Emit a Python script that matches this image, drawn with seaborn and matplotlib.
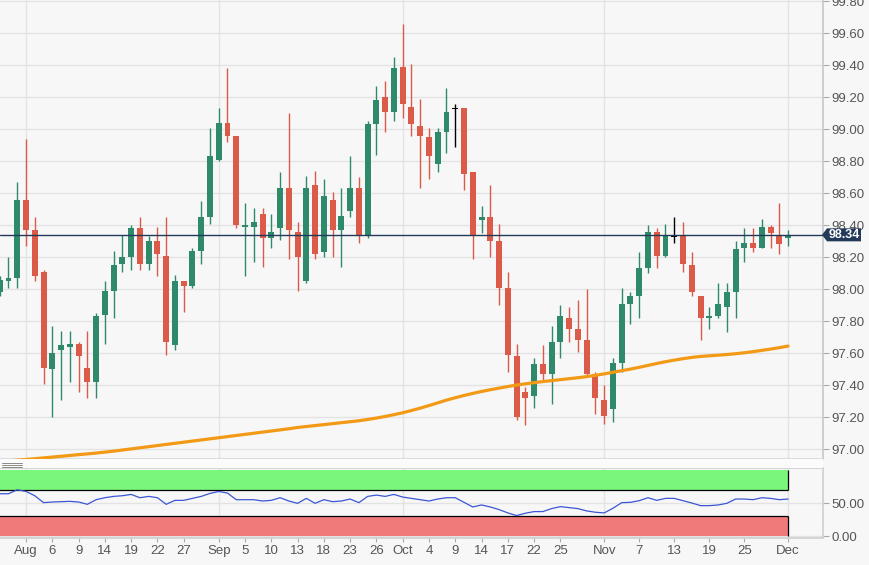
import numpy as np
import pandas as pd
import matplotlib
matplotlib.use('Agg')
import matplotlib.pyplot as plt
from matplotlib.patches import Polygon, Rectangle
from matplotlib.lines import Line2D
import seaborn as sns

# trading days shown on the chart (Jul 29 .. Dec 2, 2019)
dates = pd.bdate_range('2019-07-29', '2019-12-02')

opens = [97.98, 98.05, 98.07, 98.56, 98.37, 98.11, 97.50, 97.62, 97.64, 97.66,
         97.51, 97.42, 97.84, 97.99, 98.16, 98.20, 98.38, 98.16, 98.30, 98.21,
         97.65, 98.05, 98.02, 98.24, 98.45, 98.81, 99.04, 98.96, 98.39, 98.39,
         98.47, 98.32, 98.38, 98.63, 98.36, 98.05, 98.65, 98.23, 98.56, 98.37,
         98.49, 98.63, 98.33, 99.03, 99.20, 99.11, 99.39, 99.14, 99.02, 98.95,
         98.78, 98.98, 99.13, 99.13, 98.73, 98.43, 98.45, 98.30, 98.01, 97.58,
         97.36, 97.33, 97.53, 97.47, 97.67, 97.82, 97.75, 97.68, 97.47, 97.31,
         97.25, 97.54, 97.91, 97.96, 98.13, 98.36, 98.21, 98.33, 98.34, 98.15,
         97.96, 97.82, 97.83, 97.89, 97.98, 98.26, 98.29, 98.26, 98.39, 98.33,
         98.32]
highs = [98.08, 98.20, 98.67, 98.94, 98.45, 98.12, 97.77, 97.74, 97.74, 97.67,
         97.74, 97.85, 98.05, 98.24, 98.34, 98.40, 98.45, 98.33, 98.39, 98.45,
         98.09, 98.05, 98.26, 98.55, 99.01, 99.13, 99.38, 98.96, 98.54, 98.51,
         98.51, 98.47, 98.73, 99.10, 98.42, 98.71, 98.74, 98.69, 98.61, 98.63,
         98.83, 98.70, 99.05, 99.27, 99.30, 99.45, 99.66, 99.41, 99.19, 99.01,
         99.01, 99.26, 99.16, 99.13, 98.73, 98.52, 98.65, 98.41, 98.11, 97.66,
         97.39, 97.57, 97.65, 97.77, 97.90, 97.89, 97.93, 98.00, 97.48, 97.40,
         97.57, 98.01, 97.98, 98.23, 98.40, 98.38, 98.41, 98.45, 98.42, 98.23,
         97.96, 97.89, 98.04, 98.04, 98.30, 98.38, 98.38, 98.44, 98.40, 98.54,
         98.37]
lows = [97.96, 98.01, 98.01, 98.27, 98.05, 97.41, 97.20, 97.31, 97.42, 97.36,
        97.32, 97.32, 97.66, 97.82, 98.11, 98.12, 98.12, 98.12, 98.08, 97.59,
        97.62, 97.86, 98.01, 98.16, 98.41, 98.80, 98.92, 98.38, 98.08, 98.17,
        98.14, 98.26, 98.31, 98.19, 97.99, 98.04, 98.19, 98.20, 98.20, 98.14,
        98.45, 98.29, 98.32, 98.84, 98.98, 99.05, 99.07, 98.96, 98.63, 98.69,
        98.73, 98.85, 98.89, 98.62, 98.19, 98.35, 98.20, 97.90, 97.48, 97.18,
        97.15, 97.26, 97.42, 97.28, 97.57, 97.67, 97.61, 97.45, 97.22, 97.16,
        97.17, 97.48, 97.78, 97.82, 98.10, 98.13, 98.20, 98.29, 98.11, 97.96,
        97.68, 97.75, 97.82, 97.73, 97.82, 98.17, 98.23, 98.26, 98.26, 98.22,
        98.27]
closes = [98.06, 98.07, 98.56, 98.37, 98.08, 97.51, 97.60, 97.65, 97.66, 97.58,
          97.42, 97.83, 97.99, 98.15, 98.20, 98.38, 98.16, 98.30, 98.22, 97.67,
          98.05, 98.02, 98.24, 98.45, 98.83, 99.04, 98.96, 98.40, 98.40, 98.42,
          98.32, 98.36, 98.63, 98.37, 98.20, 98.63, 98.22, 98.58, 98.37, 98.46,
          98.63, 98.33, 99.03, 99.18, 99.11, 99.38, 99.16, 99.03, 98.96, 98.83,
          98.98, 99.11, 99.13, 98.72, 98.33, 98.45, 98.30, 98.01, 97.59, 97.20,
          97.32, 97.53, 97.47, 97.67, 97.83, 97.75, 97.68, 97.47, 97.32, 97.21,
          97.54, 97.91, 97.96, 98.13, 98.36, 98.21, 98.34, 98.33, 98.16, 97.98,
          97.82, 97.83, 97.91, 97.98, 98.25, 98.29, 98.26, 98.39, 98.35, 98.28,
          98.34]

# 200-day moving average (orange line)
ma200 = [96.922, 96.927, 96.932, 96.936, 96.941, 96.946, 96.951, 96.956, 96.961, 96.966,
         96.971, 96.976, 96.982, 96.988, 96.995, 97.002, 97.009, 97.016, 97.023, 97.030,
         97.037, 97.044, 97.051, 97.058, 97.065, 97.072, 97.079, 97.086, 97.093, 97.100,
         97.107, 97.114, 97.121, 97.128, 97.136, 97.142, 97.148, 97.154, 97.160, 97.166,
         97.172, 97.178, 97.186, 97.195, 97.205, 97.216, 97.228, 97.242, 97.257, 97.273,
         97.290, 97.307, 97.322, 97.336, 97.349, 97.361, 97.372, 97.382, 97.392, 97.401,
         97.409, 97.416, 97.423, 97.429, 97.435, 97.441, 97.447, 97.454, 97.462, 97.471,
         97.481, 97.491, 97.501, 97.512, 97.524, 97.536, 97.547, 97.557, 97.566, 97.574,
         97.580, 97.584, 97.588, 97.592, 97.597, 97.603, 97.610, 97.618, 97.626, 97.635,
         97.645]

# RSI (lower panel)
rsi = [64, 64, 70, 67.5, 61, 50.5, 51.5, 52, 52.5, 51.5,
       48, 55, 58, 60, 61, 63, 58, 60, 58, 48,
       54, 54, 57, 60, 64.5, 67.5, 65, 55, 55, 55,
       53, 54, 58, 53, 49.5, 57, 49.5, 55, 52, 53,
       56, 50.5, 60, 62, 60, 63, 59, 57, 55, 53,
       56, 58, 58, 51, 44, 47, 44, 40, 35, 31,
       34.5, 37, 37, 41.5, 44.5, 43, 41.5, 38, 36, 35,
       42, 50.5, 51, 53.5, 58, 54, 57, 57, 53.5, 50,
       46, 46, 47, 49.5, 56, 56, 55, 58, 57, 55,
       56]

last_price = 98.34
tick_labels = ['Aug', '6', '9', '14', '19', '22', '27', 'Sep', '5', '10', '13', '18', '23',
               '26', 'Oct', '4', '9', '14', '17', '22', '25', 'Nov', '7', '13', '19', '25', 'Dec']
tick_days = ['2019-08-01', '2019-08-06', '2019-08-09', '2019-08-14', '2019-08-19', '2019-08-22',
             '2019-08-27', '2019-09-02', '2019-09-05', '2019-09-10', '2019-09-13', '2019-09-18',
             '2019-09-23', '2019-09-26', '2019-10-01', '2019-10-04', '2019-10-09', '2019-10-14',
             '2019-10-17', '2019-10-22', '2019-10-25', '2019-11-01', '2019-11-07', '2019-11-13',
             '2019-11-19', '2019-11-25', '2019-12-02']
month_days = ['2019-08-01', '2019-09-02', '2019-10-01', '2019-11-01', '2019-12-02']

BG = '#f7f7f7'
GRID = '#e3e3e3'
GREEN = '#2e8a6b'
RED = '#dc5a48'
ORANGE = '#f29a16'
NAVY = '#22395a'
BLUE = '#3a56d4'

sns.set_theme(style='white', rc={'axes.facecolor': BG, 'figure.facecolor': BG})
plt.rcParams['font.family'] = ['Liberation Sans', 'DejaVu Sans']

# x position = trading day number, Aug 1 = 0
first = list(dates).index(pd.Timestamp('2019-08-01'))
x = np.arange(len(dates)) - first
pos = {d: i - first for i, d in enumerate(dates)}
tick_pos = [pos[pd.Timestamp(d)] for d in tick_days]
month_pos = [pos[pd.Timestamp(d)] for d in month_days]

W, H = 869, 565
fig = plt.figure(figsize=(W / 100, H / 100), dpi=100)
ax = fig.add_axes([0, 1 - 459 / H, 823 / W, 459 / H])
ax2 = fig.add_axes([0, 27 / H, 823 / W, 70 / H])

xlim = (-2.97, 90.98)

# ---- candles
o, h, l, c = map(np.array, (opens, highs, lows, closes))
cols = np.where(c > o, GREEN, np.where(c < o, RED, 'black'))
body = np.maximum(np.abs(c - o), 0.008)
bottom = np.minimum(o, c) - (body - np.abs(c - o)) / 2
ax.vlines(x, l, h, colors=cols, lw=1.0, zorder=3)
ax.bar(x, body, bottom=bottom, width=0.68, color=cols, linewidth=0, zorder=4)

sns.lineplot(x=x, y=ma200, ax=ax, color=ORANGE, lw=2.3, zorder=5, legend=False)
ax.axhline(last_price, color=NAVY, lw=1.0, zorder=6)

for m in month_pos:
    ax.axvline(m, color=GRID, lw=1, zorder=0)
ax.set_xlim(*xlim)
ax.set_ylim(96.939, 99.808)
yt = np.round(np.arange(97.0, 99.81, 0.2), 2)
ax.set_yticks(yt)
ax.set_yticklabels([f'{v:.2f}' for v in yt])
ax.yaxis.grid(True, color=GRID, lw=1)
ax.set_axisbelow(True)
ax.tick_params(axis='y', left=False, labelleft=False, right=True, labelright=True,
               length=4, width=0.8, color='#aaaaaa', labelsize=9.5, labelcolor='#555555', pad=2)
ax.tick_params(axis='x', bottom=False, labelbottom=False)
ax.set_xlabel('')
ax.set_ylabel('')
for s in ['left', 'top']:
    ax.spines[s].set_visible(False)
ax.spines['right'].set_color('#c8c8c8')
ax.spines['bottom'].set_color('#d8d8d8')

# price tag on the right axis
span = 99.808 - 96.939
hh = 6.5 * span / 459
ytr = ax.get_yaxis_transform()
tag = Polygon([(822 / 823, last_price), (827 / 823, last_price + hh), (861 / 823, last_price + hh),
               (861 / 823, last_price - hh), (827 / 823, last_price - hh)],
              closed=True, transform=ytr, clip_on=False, fc=NAVY, ec='none', zorder=20)
ax.add_patch(tag)
ax.text(844 / 823, last_price, f'{last_price:.2f}', transform=ytr, ha='center', va='center',
        color='white', fontsize=9, fontweight='bold', zorder=21, clip_on=False)

# ---- RSI panel
for m in month_pos:
    ax2.axvline(m, color=GRID, lw=1, zorder=0)
ax2.fill_between([xlim[0] - 1, x[-1]], 70, 100, color='#7af77a', lw=0, zorder=1)
ax2.fill_between([xlim[0] - 1, x[-1]], 0, 30, color='#f07a7a', lw=0, zorder=1)
ax2.hlines([70, 30], xlim[0] - 1, x[-1], color='black', lw=0.9, zorder=2)
ax2.vlines([x[-1], x[-1]], [70, 0], [100, 30], color='black', lw=0.9, zorder=2)
sns.lineplot(x=x, y=rsi, ax=ax2, color=BLUE, lw=0.9, zorder=3, legend=False)
ax2.set_xlim(*xlim)
ax2.set_ylim(-3, 103)
ax2.set_yticks([0, 50])
ax2.set_yticklabels(['0.00', '50.00'])
ax2.yaxis.grid(True, color=GRID, lw=1)
ax2.set_axisbelow(True)
ax2.set_xticks(tick_pos)
ax2.set_xticklabels(tick_labels)
ax2.tick_params(axis='y', left=False, labelleft=False, right=True, labelright=True,
                length=4, width=0.8, color='#aaaaaa', labelsize=9.5, labelcolor='#555555', pad=2)
ax2.tick_params(axis='x', bottom=True, length=3, width=0.8, color='#aaaaaa',
                labelsize=9.5, labelcolor='#555555', pad=2)
ax2.set_xlabel('')
ax2.set_ylabel('')
ax2.spines['left'].set_visible(False)
for s in ['top', 'right', 'bottom']:
    ax2.spines[s].set_color('#d0d0d0')

# separator strip with drag handle
fig.patches.append(Rectangle((0, 1 - 468 / H), 823 / W, 9 / H, transform=fig.transFigure,
                             fc='#fbfbfb', ec='none', zorder=0))
for yy in (462.5, 464.5, 466.5):
    fig.lines.append(Line2D([2 / W, 22 / W], [1 - yy / H, 1 - yy / H], transform=fig.transFigure,
                            color='#8a8a8a', lw=0.7))

fig.savefig('out.png', dpi=100, facecolor=BG)
